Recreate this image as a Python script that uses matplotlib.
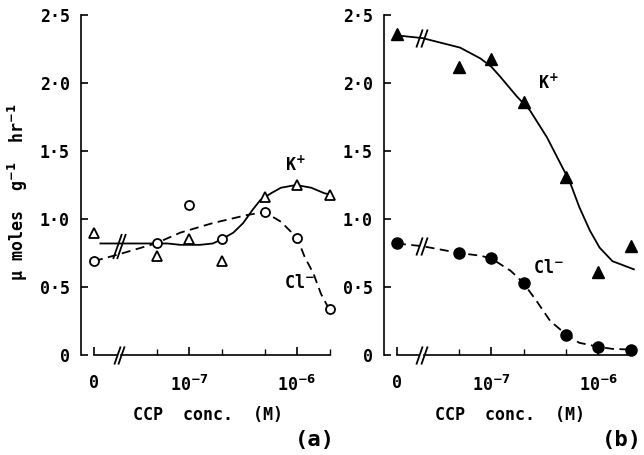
import numpy as np
import matplotlib
matplotlib.use("Agg")
import matplotlib.pyplot as plt
from matplotlib.path import Path

plt.rcParams['font.family'] = ['DejaVu Sans Mono']
plt.rcParams['font.weight'] = 'bold'
plt.rcParams['axes.labelweight'] = 'bold'
plt.rcParams['mathtext.default'] = 'bf'

# measured points (concentration in M, 0 = control)
conc = [0, 5e-8, 1e-7, 2e-7, 5e-7, 1e-6, 2e-6]
a_k = [0.90, 0.73, 0.85, 0.69, 1.16, 1.25, 1.18]
a_cl = [0.69, 0.82, 1.10, 0.85, 1.05, 0.86, 0.34]
b_k = [2.36, 2.12, 2.18, 1.86, 1.31, 0.61, 0.80]
b_cl = [0.82, 0.75, 0.71, 0.53, 0.15, 0.06, 0.04]

# hand-drawn fit lines, x in log10(conc) axis units
a_k_fit_x = [-7.82, -7.65, -7.37, -7.2, -7.08, -6.90, -6.78, -6.70, -6.59, -6.50,
             -6.41, -6.34, -6.24, -6.15, -6.01, -5.87, -5.75, -5.70]
a_k_fit_y = [0.82, 0.82, 0.82, 0.82, 0.81, 0.81, 0.82, 0.85, 0.90, 0.97,
             1.07, 1.14, 1.19, 1.23, 1.25, 1.23, 1.19, 1.18]
a_cl_fit_x = [-7.88, -7.63, -7.31, -7.08, -6.78, -6.46, -6.30, -6.15, -6.0,
              -5.93, -5.85, -5.78, -5.70]
a_cl_fit_y = [0.69, 0.745, 0.82, 0.90, 0.97, 1.03, 1.05, 0.98, 0.86,
              0.72, 0.60, 0.45, 0.33]
b_k_fit_x = [-7.88, -7.64, -7.29, -7.10, -7.0, -6.92, -6.76, -6.64, -6.48, -6.33,
             -6.27, -6.18, -6.08, -5.99, -5.87, -5.67]
b_k_fit_y = [2.35, 2.33, 2.26, 2.18, 2.12, 2.05, 1.90, 1.80, 1.60, 1.37,
             1.28, 1.09, 0.915, 0.79, 0.69, 0.63]
b_cl_fit_x = [-7.88, -7.64, -7.30, -7.10, -7.0, -6.82, -6.70, -6.58, -6.45, -6.30,
              -6.18, -6.0, -5.87, -5.70]
b_cl_fit_y = [0.82, 0.80, 0.75, 0.73, 0.71, 0.62, 0.53, 0.40, 0.25, 0.15,
              0.09, 0.06, 0.045, 0.04]

yticks = [0, 0.5, 1.0, 1.5, 2.0, 2.5]
ytick_labels = ['0', '0·5', '1·0', '1·5', '2·0', '2·5']

ZERO_POS = -7.88
BRK = -7.65
XMIN, XMAX = -8.0, -5.65

slash = Path([(-0.35, -1.0), (0.35, 1.0)], [Path.MOVETO, Path.LINETO])


def pos(c):
    return ZERO_POS if c == 0 else np.log10(c)


def draw_break(ax, y, size=13):
    ax.plot([BRK - 0.02, BRK + 0.02], [y, y], linestyle='none', marker=slash,
            markersize=size, markeredgewidth=1.3, color='black', clip_on=False, zorder=5)


def setup(ax):
    ax.set_xlim(XMIN, XMAX)
    ax.set_ylim(0, 2.5)
    for s in ['top', 'right', 'bottom']:
        ax.spines[s].set_visible(False)
    ax.spines['left'].set_linewidth(1.2)
    # broken x axis line
    end = np.log10(2e-6)
    ax.plot([ZERO_POS, BRK - 0.02], [0, 0], color='black', lw=1.2, clip_on=False)
    ax.plot([BRK + 0.02, end], [0, 0], color='black', lw=1.2, clip_on=False)
    draw_break(ax, 0)
    ax.set_xticks([ZERO_POS, -7, -6])
    ax.set_xticklabels(['0', '10$^{-7}$', '10$^{-6}$'], fontsize=12)
    ax.set_xticks([np.log10(5e-8), np.log10(2e-7), np.log10(5e-7), end], minor=True)
    ax.tick_params(axis='x', which='major', direction='in', length=6, width=1.2, pad=14)
    ax.tick_params(axis='x', which='minor', direction='in', length=4, width=1.0)
    ax.set_yticks(yticks)
    ax.set_yticklabels(ytick_labels, fontsize=12)
    ax.tick_params(axis='y', direction='in', length=5, width=1.2, pad=8)
    ax.set_xlabel('CCP  conc.  (M)', fontsize=12)
    ax.xaxis.set_label_coords(0.5, -0.15)


fig = plt.figure(figsize=(6.44, 4.55), dpi=100)
W, H = 644, 455
axa = fig.add_axes([81 / W, 100 / H, 254 / W, 340 / H])
axb = fig.add_axes([384 / W, 100 / H, 252 / W, 340 / H])

xs = [pos(c) for c in conc]

# panel (a)
setup(axa)
axa.plot(a_k_fit_x, a_k_fit_y, color='black', lw=1.3)
axa.plot(a_cl_fit_x, a_cl_fit_y, color='black', lw=1.3, dashes=(5, 3))
axa.plot(xs, a_k, linestyle='none', marker='^', markersize=7.5, markerfacecolor='white',
         markeredgecolor='black', markeredgewidth=1.3, clip_on=False, zorder=4)
axa.plot(xs, a_cl, linestyle='none', marker='o', markersize=6.5, markerfacecolor='white',
         markeredgecolor='black', markeredgewidth=1.3, clip_on=False, zorder=4)
draw_break(axa, 0.80, size=18)
axa.text(-6.02, 1.40, 'K$^{+}$', fontsize=12, ha='center', va='center')
axa.text(-5.98, 0.53, 'Cl$^{-}$', fontsize=12, ha='center', va='center')
axa.set_ylabel('μ moles  g$^{-1}$  hr$^{-1}$', fontsize=12)
axa.yaxis.set_label_coords(-0.2, 0.48)

# panel (b)
setup(axb)
axb.plot(b_k_fit_x, b_k_fit_y, color='black', lw=1.3)
axb.plot(b_cl_fit_x, b_cl_fit_y, color='black', lw=1.3, dashes=(5, 3))
axb.plot(xs, b_k, linestyle='none', marker='^', markersize=9, color='black',
         clip_on=False, zorder=4)
axb.plot(xs, b_cl, linestyle='none', marker='o', markersize=8, color='black',
         clip_on=False, zorder=4)
draw_break(axb, 2.33)
draw_break(axb, 0.80)
axb.text(-6.47, 2.0, 'K$^{+}$', fontsize=12, ha='center', va='center')
axb.text(-6.47, 0.64, 'Cl$^{-}$', fontsize=12, ha='center', va='center')

fig.text(315 / W, 1 - 440 / H, '(a)', fontsize=16, ha='center', va='center')
fig.text(622 / W, 1 - 440 / H, '(b)', fontsize=16, ha='center', va='center')

fig.savefig('out.png', dpi=100)
